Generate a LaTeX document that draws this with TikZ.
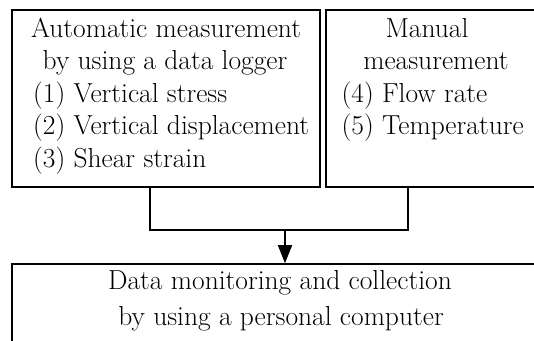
\documentclass[tikz,border=0pt]{standalone}
\usetikzlibrary{arrows.meta}
\begin{document}
\begin{tikzpicture}[x=1pt,y=-1pt,
  box/.style={draw=black,line width=1.6pt,rectangle,inner sep=0pt},
  ctxt/.style={anchor=base,inner sep=0pt,font=\fontsize{27.5}{33}\selectfont},
  ltxt/.style={anchor=base west,inner sep=0pt,font=\fontsize{27.5}{33}\selectfont},
  conn/.style={draw=black,line width=1.6pt}]
\useasboundingbox (0,0) rectangle (534,340);
\node[box,minimum width=308pt,minimum height=177pt] (L) at (166,98.5) {};
\node[box,minimum width=216pt,minimum height=177pt] (R) at (434,98.5) {};
\node[box,minimum width=530pt,minimum height=100pt] (B) at (277,314) {};
% left box text
\node[ctxt] (l1) at (166,37.5) {Automatic measurement};
\node[ctxt] (l2) at (165,69.5) {by using a data logger};
\node[ltxt] (l3) at (33,102) {(1) Vertical stress};
\node[ltxt] (l4) at (33,134.5) {(2) Vertical displacement};
\node[ltxt] (l5) at (33,167) {(3) Shear strain};
% right box text
\node[ctxt] (r1) at (427,37.5) {Manual};
\node[ctxt] (r2) at (436,69.5) {measurement};
\node[ltxt] (r3) at (341.5,102) {(4) Flow rate};
\node[ltxt] (r4) at (341.5,134.5) {(5) Temperature};
% bottom box text
\node[ctxt] (b1) at (280,289) {Data monitoring and collection};
\node[ctxt] (b2) at (281,325) {by using a personal computer};
% connectors
\coordinate (m) at (285,230);
\draw[conn] ([xshift=-16pt]L.south) |- (m);
\draw[conn] ([xshift=-26pt]R.south) |- (m);
\draw[conn,-{Triangle[length=18pt,width=14pt]}] (m) -- (m |- B.north);
\end{tikzpicture}
\end{document}
